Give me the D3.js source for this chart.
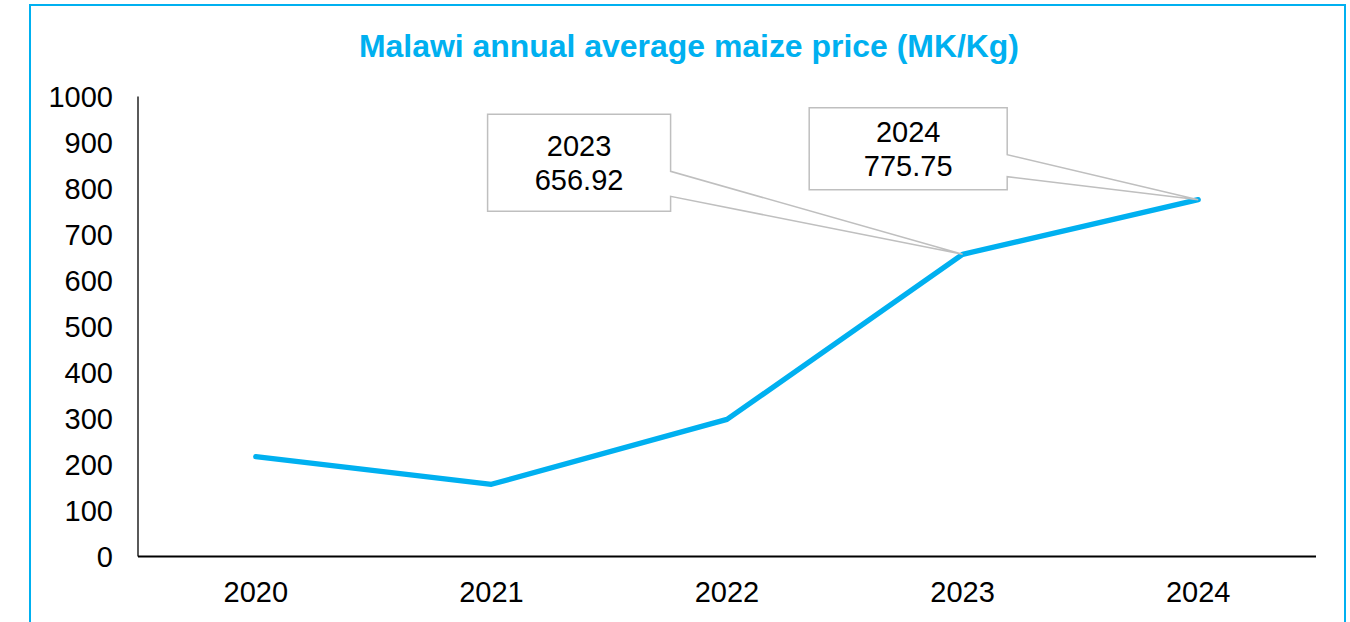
<!DOCTYPE html>
<html>
<head>
<meta charset="utf-8">
<script src="https://cdn.jsdelivr.net/npm/d3@7"></script>
<style>
  body { margin: 0; background: #fff; }
  text { font-family: "Liberation Sans", Arial, sans-serif; }
</style>
</head>
<body>
<script>
// chart data
var years = ["2020", "2021", "2022", "2023", "2024"];
var prices = [217, 157, 298, 656.92, 775.75];
var yTicks = [0, 100, 200, 300, 400, 500, 600, 700, 800, 900, 1000];
var labelled = ["2023", "2024"];
var titleText = "Malawi annual average maize price (MK/Kg)";

function init(){
    var w = 1350;
    var h = 622;
    var blue = "#00B0F0";

    var svg = d3.select("body")
        .append("svg")
        .attr("width", w)
        .attr("height", h);

    // outer frame
    svg.append("rect")
        .attr("x", 30).attr("y", 5)
        .attr("width", 1315).attr("height", 700)
        .attr("fill", "white")
        .attr("stroke", blue)
        .attr("stroke-width", 2);

    svg.append("text")
        .attr("x", 689).attr("y", 57)
        .attr("text-anchor", "middle")
        .attr("fill", blue)
        .attr("font-weight", "bold")
        .attr("font-size", 32)
        .attr("textLength", 660)
        .attr("lengthAdjust", "spacingAndGlyphs")
        .text(titleText);

    var x = d3.scalePoint()
        .domain(years)
        .range([138, 1316])
        .padding(0.5);

    var y = d3.scaleLinear()
        .domain([0, 1000])
        .range([556.5, 96.5]);

    // y axis: line + labels
    svg.append("line")
        .attr("x1", 138).attr("x2", 138)
        .attr("y1", y(1000)).attr("y2", y(0))
        .attr("stroke", "#000").attr("stroke-width", 1.3);

    svg.selectAll(".ylab")
        .data(yTicks)
        .enter()
        .append("text")
        .attr("class", "ylab")
        .attr("x", 113)
        .attr("y", function(d){ return y(d) + 10; })
        .attr("text-anchor", "end")
        .attr("font-size", 29)
        .attr("fill", "#000")
        .text(function(d){ return d; });

    // x axis
    svg.append("line")
        .attr("x1", 138).attr("x2", 1316)
        .attr("y1", y(0)).attr("y2", y(0))
        .attr("stroke", "#000").attr("stroke-width", 2);

    svg.selectAll(".xlab")
        .data(years)
        .enter()
        .append("text")
        .attr("class", "xlab")
        .attr("x", function(d){ return x(d); })
        .attr("y", 602)
        .attr("text-anchor", "middle")
        .attr("font-size", 29)
        .attr("fill", "#000")
        .text(function(d){ return d; });

    // the line
    var line = d3.line()
        .x(function(d, i){ return x(years[i]); })
        .y(function(d){ return y(d); });

    svg.append("path")
        .datum(prices)
        .attr("d", line)
        .attr("fill", "none")
        .attr("stroke", blue)
        .attr("stroke-width", 5.3)
        .attr("stroke-linejoin", "round")
        .attr("stroke-linecap", "round");

    // callout boxes (box placement relative to the point)
    var boxes = {
        "2023": {dx: -475, dy: -140, bw: 183, bh: 97, w1: 57, w2: 82},
        "2024": {dx: -389, dy: -92, bw: 198, bh: 82, w1: 47, w2: 69}
    };

    labelled.forEach(function(yr){
        var i = years.indexOf(yr);
        var px = x(yr), py = y(prices[i]);
        var b = boxes[yr];
        var x0 = px + b.dx, y0 = py + b.dy;
        var x1 = x0 + b.bw, y1 = y0 + b.bh;
        var p = d3.path();
        p.moveTo(x0, y0);
        p.lineTo(x1, y0);
        p.lineTo(x1, y0 + b.w1);
        p.lineTo(px, py);
        p.lineTo(x1, y0 + b.w2);
        p.lineTo(x1, y1);
        p.lineTo(x0, y1);
        p.closePath();
        svg.append("path")
            .attr("d", p.toString())
            .attr("fill", "white")
            .attr("stroke", "#BFBFBF")
            .attr("stroke-width", 1.5);

        var cx = (x0 + x1) / 2;
        var my = (y0 + y1) / 2;
        svg.append("text")
            .attr("x", cx).attr("y", my - 7)
            .attr("text-anchor", "middle")
            .attr("font-size", 29)
            .text(yr);
        svg.append("text")
            .attr("x", cx).attr("y", my + 27)
            .attr("text-anchor", "middle")
            .attr("font-size", 29)
            .text(d3.format(".2f")(prices[i]));
    });
}

window.onload = init;
</script>
</body>
</html>
